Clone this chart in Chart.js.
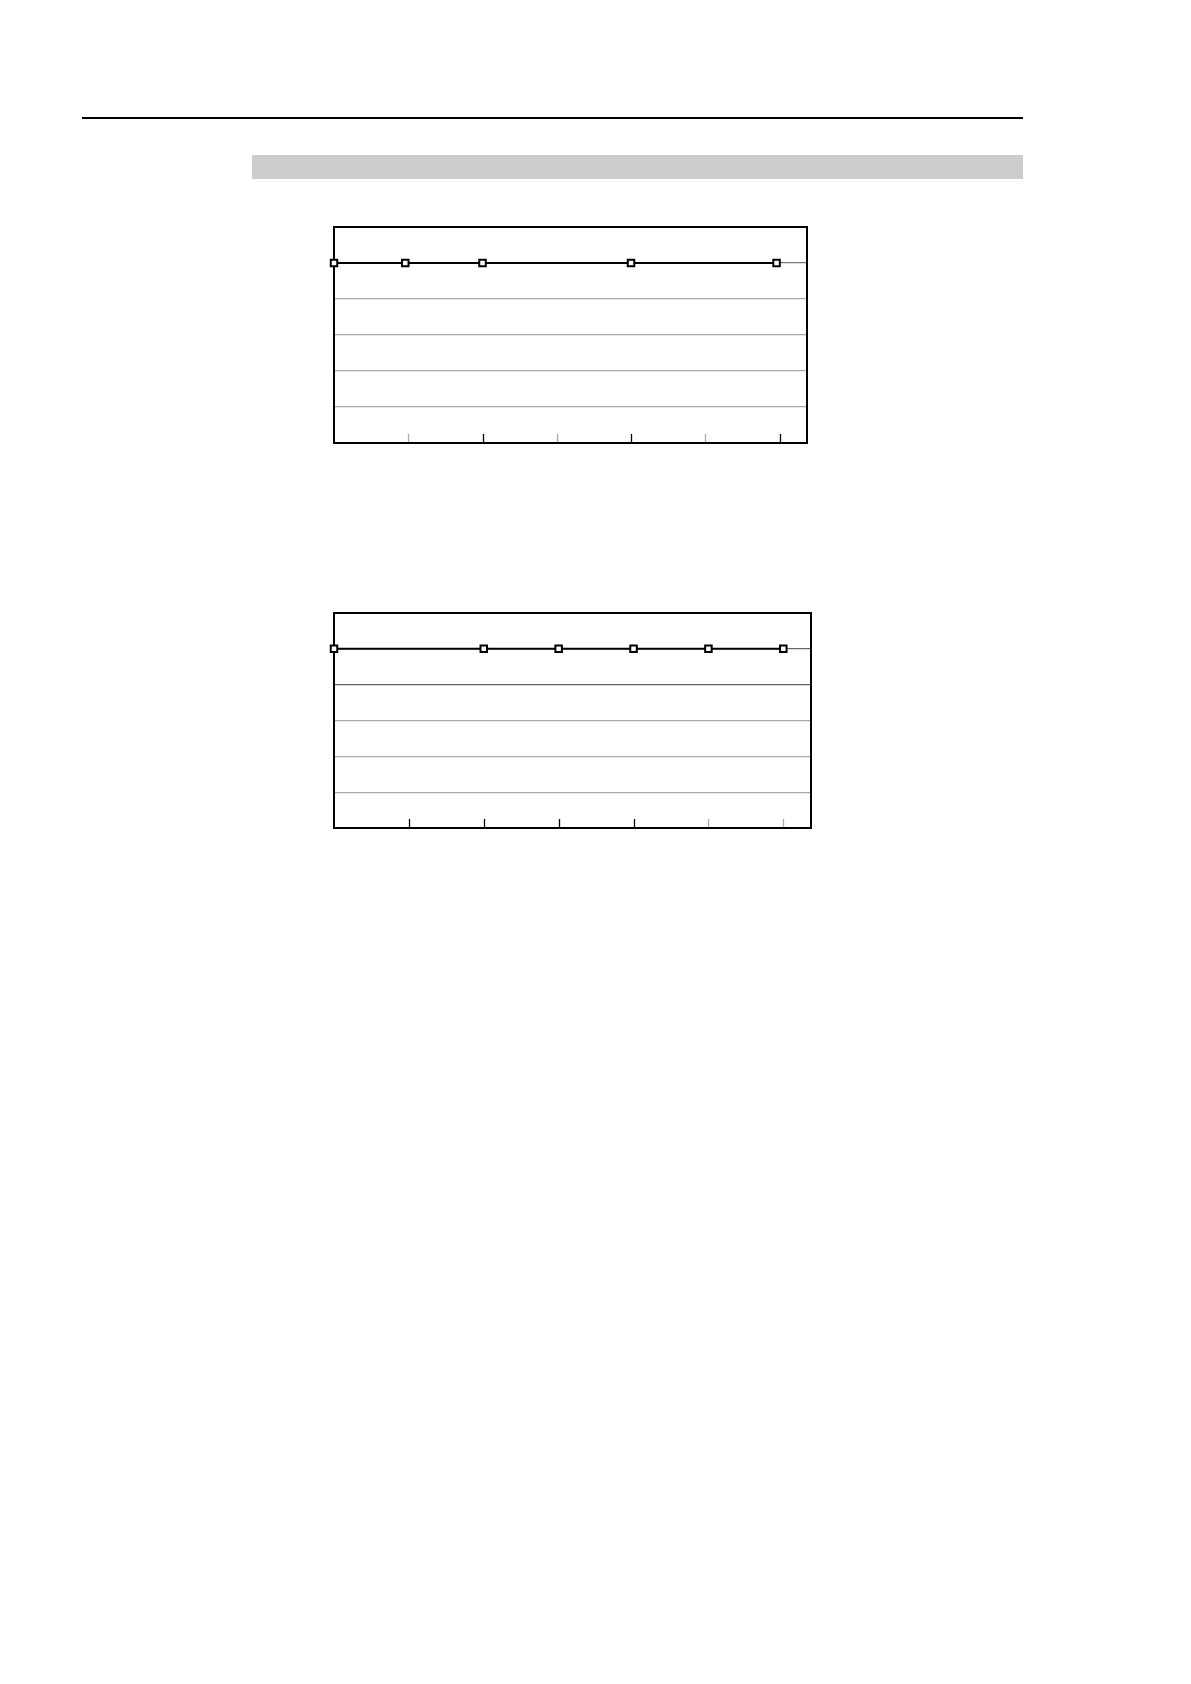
<!DOCTYPE html>
<html>
<head>
<meta charset="utf-8">
<script src="https://cdn.jsdelivr.net/npm/chart.js@4.4.0/dist/chart.umd.min.js"></script>
<style>
  html, body { margin: 0; padding: 0; background: #fff; }
  #page { position: relative; width: 1191px; height: 1684px; background: #fff; overflow: hidden; }
  #rule { position: absolute; left: 82px; top: 116.5px; width: 941px; height: 2px; background: #000; }
  #band { position: absolute; left: 252px; top: 155px; width: 771px; height: 24px; background: #cccccc; }
  .wrap { position: absolute; }
  #w1 { left: 324px; top: 217px; width: 493px; height: 236px; }
  #w2 { left: 324px; top: 603px; width: 497px; height: 235px; }
</style>
</head>
<body>
<div id="page">
  <div id="rule"></div>
  <div id="band"></div>
  <div class="wrap" id="w1"><canvas id="c1"></canvas></div>
  <div class="wrap" id="w2"><canvas id="c2"></canvas></div>
</div>
<script>
// ---- data ----
const chart1X = [0, 0.96, 2, 4, 5.96];
const chart1Y = [5, 5, 5, 5, 5];
const chart2X = [0, 2, 3, 4, 5, 6];
const chart2Y = [5, 5, 5, 5, 5, 5];
const xTickValues = [1, 2, 3, 4, 5, 6];
const yRange = [0, 6];
const xRange = [0, 6.37];

// ---- styles ----
const tickColors1 = ['#aaaaaa', '#000000', '#aaaaaa', '#000000', '#aaaaaa', '#000000'];
const tickColors2 = ['#000000', '#000000', '#000000', '#000000', '#aaaaaa', '#aaaaaa'];

const framePlugin = {
  id: 'frame',
  beforeDatasetsDraw(chart) {
    const a = chart.chartArea, ctx = chart.ctx;
    ctx.save();
    ctx.strokeStyle = '#000';
    ctx.lineWidth = 2;
    ctx.strokeRect(a.left, a.top, a.right - a.left, a.bottom - a.top);
    // inward tick marks on x axis
    const xs = chart.scales.x;
    const cols = chart.options.plugins.frame.tickColors;
    ctx.lineWidth = 1.3;
    xTickValues.forEach((v, i) => {
      const px = Math.round(xs.getPixelForValue(v)) + 0.5;
      ctx.strokeStyle = cols[i];
      ctx.beginPath();
      ctx.moveTo(px, a.bottom - 1);
      ctx.lineTo(px, a.bottom - 9);
      ctx.stroke();
    });
    ctx.restore();
  }
};

function makeChart(id, xs, ys, tickColors, gridColorFn) {
  const pts = xs.map((x, i) => ({ x: x, y: ys[i] }));
  return new Chart(document.getElementById(id), {
    type: 'scatter',
    data: {
      datasets: [{
        data: pts,
        showLine: true,
        borderColor: '#000',
        borderWidth: 2,
        pointStyle: 'rect',
        pointRadius: 4.6,
        pointHoverRadius: 4.6,
        pointBackgroundColor: '#fff',
        pointBorderColor: '#000',
        pointBorderWidth: 2,
        clip: false
      }]
    },
    options: {
      responsive: true,
      maintainAspectRatio: false,
      animation: false,
      events: [],
      layout: { padding: 10 },
      plugins: {
        legend: { display: false },
        tooltip: { enabled: false },
        frame: { tickColors: tickColors }
      },
      scales: {
        x: {
          type: 'linear',
          min: xRange[0], max: xRange[1],
          ticks: { display: false, stepSize: 1 },
          grid: { display: false, drawTicks: false },
          border: { display: false }
        },
        y: {
          type: 'linear',
          min: yRange[0], max: yRange[1],
          ticks: { display: false, stepSize: 1 },
          grid: {
            drawTicks: false,
            lineWidth: 1.3,
            color: gridColorFn
          },
          border: { display: false }
        }
      }
    },
    plugins: [framePlugin]
  });
}

makeChart('c1', chart1X, chart1Y, tickColors1, (ctx) => {
  const v = ctx.tick ? ctx.tick.value : 0;
  if (v === 0 || v === 6) return 'rgba(0,0,0,0)';
  return v === 5 ? '#777777' : '#aaaaaa';
});
makeChart('c2', chart2X, chart2Y, tickColors2, (ctx) => {
  const v = ctx.tick ? ctx.tick.value : 0;
  if (v === 0 || v === 6) return 'rgba(0,0,0,0)';
  return (v === 4 || v === 5) ? '#666666' : '#aaaaaa';
});
</script>
</body>
</html>
